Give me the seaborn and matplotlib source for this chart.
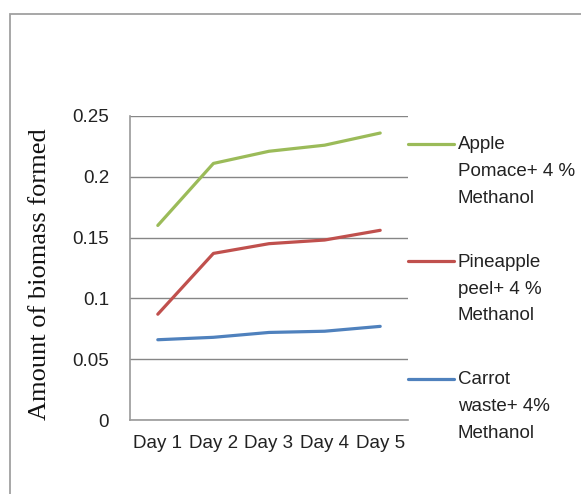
import matplotlib
matplotlib.use("Agg")
import matplotlib.pyplot as plt
from matplotlib.patches import Rectangle
import seaborn as sns
import pandas as pd
import numpy as np

days = ["Day 1", "Day 2", "Day 3", "Day 4", "Day 5"]
series_names = [
    "Apple\nPomace+ 4 %\nMethanol",
    "Pineapple\npeel+ 4 %\nMethanol",
    "Carrot\nwaste+ 4%\nMethanol",
]
apple_pomace = [0.160, 0.211, 0.221, 0.226, 0.236]
pineapple_peel = [0.087, 0.137, 0.145, 0.148, 0.156]
carrot_waste = [0.066, 0.068, 0.072, 0.073, 0.077]
y_ticks = [0, 0.05, 0.1, 0.15, 0.2, 0.25]
y_tick_labels = ["0", "0.05", "0.1", "0.15", "0.2", "0.25"]
colors = ["#9BBB59", "#C0504D", "#4F81BD"]

records = []
for name, vals in zip(series_names, [apple_pomace, pineapple_peel, carrot_waste]):
    for i, (d, v) in enumerate(zip(days, vals)):
        records.append({"idx": i, "day": d, "value": v, "series": name})
df = pd.DataFrame(records)

sns.set_theme(style="white")
plt.rcParams["font.family"] = ["Liberation Sans", "DejaVu Sans"]

W, H = 581, 494
fig = plt.figure(figsize=(W / 100, H / 100), dpi=100)
ax = fig.add_axes([130 / W, 1 - 420 / H, (408 - 130) / W, (420 - 116) / H])

sns.lineplot(data=df, x="idx", y="value", hue="series", hue_order=series_names,
             palette=colors, linewidth=2.3, ax=ax, legend=True)

ax.set_xlim(-0.5, 4.5)
ax.set_ylim(0, 0.25)
ax.set_xticks(range(len(days)))
ax.set_xticklabels(days)
ax.set_yticks(y_ticks)
ax.set_yticklabels(y_tick_labels)
ax.tick_params(axis="y", length=0, pad=15, labelsize=13.5, labelcolor="#222222")
ax.tick_params(axis="x", length=0, pad=11, labelsize=13.5, labelcolor="#222222")
ax.set_xlabel("")
ax.set_ylabel("Amount of biomass formed", family=["Liberation Serif", "DejaVu Serif"],
              fontsize=19, color="#111111")
ax.yaxis.set_label_coords(-0.285, 0.48)

ax.yaxis.grid(True, color="#868686", linewidth=1.0)
ax.xaxis.grid(False)
for side in ["top", "right"]:
    ax.spines[side].set_visible(False)
for side in ["left", "bottom"]:
    ax.spines[side].set_color("#9A9A9A")
    ax.spines[side].set_linewidth(1.2)

handles, labels = ax.get_legend_handles_labels()
leg = ax.legend(handles, labels, loc="upper left",
                bbox_to_anchor=(408 / W, 1 - 136 / H), bbox_transform=fig.transFigure,
                frameon=False, fontsize=13.5, handlelength=2.45, handletextpad=0.2,
                labelspacing=2.5, borderpad=0, borderaxespad=0)
for t in leg.get_texts():
    t.set_linespacing(1.76)
    t.set_color("#222222")
# lift each legend line from the middle row of its label to the first row
line_step_pt = 19.8
for line in leg.get_lines():
    line.set_linewidth(2.3)
    line.set_ydata(np.asarray(line.get_ydata(), dtype=float) + line_step_pt)

# outer chart border
fig.patches.append(Rectangle((10 / W, -0.2), 1.2, 1 - 14 / H + 0.2,
                             transform=fig.transFigure, fill=False,
                             edgecolor="#A0A0A0", linewidth=1.3, clip_on=False))

fig.savefig("out.png", dpi=100, facecolor="white")
